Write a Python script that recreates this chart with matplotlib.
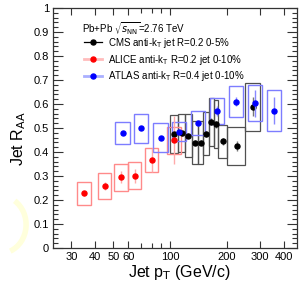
import numpy as np
import matplotlib
matplotlib.use('Agg')
import matplotlib.pyplot as plt
from matplotlib.patches import Rectangle, Arc
from matplotlib.lines import Line2D
from matplotlib.ticker import FixedLocator, NullFormatter, FuncFormatter

plt.rcParams['font.family'] = ['Liberation Sans', 'DejaVu Sans']

# CMS anti-kT R=0.2, 0-5%
cms_lo = [100, 110, 120, 130, 140, 150, 160, 170, 180, 200, 250]
cms_hi = [110, 120, 130, 140, 150, 160, 170, 180, 200, 250, 300]
cms_raa = [0.474, 0.478, 0.468, 0.439, 0.439, 0.476, 0.526, 0.516, 0.444, 0.425, 0.589]
cms_stat = [0.01, 0.01, 0.01, 0.01, 0.01, 0.012, 0.015, 0.015, 0.015, 0.02, 0.04]
cms_sys = [0.08, 0.08, 0.09, 0.09, 0.09, 0.09, 0.1, 0.1, 0.07, 0.08, 0.1]

# ALICE anti-kT R=0.2, 0-10%
alice_pt = [35, 45, 55, 65, 80, 105]
alice_raa = [0.228, 0.258, 0.294, 0.301, 0.368, 0.449]
alice_stat = [0.01, 0.015, 0.025, 0.03, 0.05, 0.1]
alice_sys = [0.048, 0.055, 0.055, 0.056, 0.05, 0.056]

# ATLAS anti-kT R=0.4, 0-10%
atlas_pt = [56, 70, 89, 112, 141, 178, 224, 282, 355]
atlas_raa = [0.478, 0.499, 0.46, 0.485, 0.52, 0.572, 0.61, 0.603, 0.572]
atlas_stat = [0.005, 0.005, 0.005, 0.006, 0.01, 0.02, 0.02, 0.055, 0.057]
atlas_sys = [0.045, 0.06, 0.06, 0.04, 0.05, 0.054, 0.066, 0.075, 0.085]

yticks = [0, 0.1, 0.2, 0.3, 0.4, 0.5, 0.6, 0.7, 0.8, 0.9, 1.0]
xlabeled = [30, 40, 50, 60, 100, 200, 300, 400]
xminor = [70, 80, 90]

RED = '#ff0000'
RED_BOX = '#ff8a8a'
BLUE = '#0000ff'
BLUE_BOX = '#7d7dff'
GRAY_BOX = '#505050'

fig = plt.figure(figsize=(3.07, 2.88), dpi=100)
ax = fig.add_axes([0.173, 0.139, 0.794, 0.833])
ax.set_xscale('log')
ax.set_xlim(24, 470)
ax.set_ylim(0, 1)

# systematic boxes
for lo, hi, y, s in zip(cms_lo, cms_hi, cms_raa, cms_sys):
    ax.add_patch(Rectangle((lo, y - s), hi - lo, 2 * s, fill=False,
                           edgecolor=GRAY_BOX, lw=0.9, zorder=2))
for x, y, s in zip(alice_pt, alice_raa, alice_sys):
    ax.add_patch(Rectangle((x / 1.085, y - s), x * 1.085 - x / 1.085, 2 * s,
                           fill=False, edgecolor=RED_BOX, lw=1.0, zorder=2))
for x, y, s in zip(atlas_pt, atlas_raa, atlas_sys):
    ax.add_patch(Rectangle((x / 1.09, y - s), x * 1.09 - x / 1.09, 2 * s,
                           fill=False, edgecolor=BLUE_BOX, lw=1.0, zorder=2))

cms_pt = [0.5 * (a + b) for a, b in zip(cms_lo, cms_hi)]
ax.errorbar(cms_pt, cms_raa, yerr=cms_stat, fmt='o', color='black', ms=3.6,
            ecolor='#777777', elinewidth=1.0, capsize=0, zorder=4)
ax.errorbar(alice_pt, alice_raa, yerr=alice_stat, fmt='o', color=RED, ms=3.6,
            ecolor='#ffaaaa', elinewidth=1.0, capsize=0, zorder=4)
ax.errorbar(atlas_pt, atlas_raa, yerr=atlas_stat, fmt='o', color=BLUE, ms=3.6,
            ecolor='#8888ff', elinewidth=1.0, capsize=0, zorder=5)

# axes styling, ROOT-like
ax.xaxis.set_major_locator(FixedLocator(xlabeled))
ax.xaxis.set_minor_locator(FixedLocator(xminor))
ax.xaxis.set_major_formatter(FuncFormatter(lambda v, p: '%d' % v))
ax.xaxis.set_minor_formatter(NullFormatter())
ax.set_yticks(yticks)
ax.yaxis.set_minor_locator(FixedLocator(np.arange(0, 1.001, 0.02)))
ax.yaxis.set_major_formatter(FuncFormatter(lambda v, p: '%g' % v))
ax.tick_params(which='both', direction='in', top=True, right=True,
               labelsize=8, width=0.8, color='#333333', pad=3)
ax.tick_params(which='major', length=7)
ax.tick_params(which='minor', length=3.5)
ax.tick_params(axis='x', which='major', length=5)
for sp in ax.spines.values():
    sp.set_linewidth(0.9)
    sp.set_color('#333333')

fig.text(0.06, 0.52, 'Jet R$_{\\rm AA}$', rotation=90, ha='center',
         va='center', fontsize=11.5)
fig.text(0.585, 0.055, 'Jet p$_{\\rm T}$ (GeV/c)', ha='center', va='center',
         fontsize=11.5)

# legend
ax.text(0.118, 0.912, 'Pb+Pb $\\sqrt{s_{\\rm NN}}$=2.76 TeV',
        transform=ax.transAxes, fontsize=7, va='center')
handles = [
    Line2D([], [], color='black', lw=0.9, marker='o', ms=3.6),
    Line2D([], [], color='#ffbcbc', lw=2, marker='o', ms=3.6, mfc=RED, mec=RED),
    Line2D([], [], color='#aab0ff', lw=2, marker='o', ms=3.6, mfc=BLUE, mec=BLUE),
]
labels = ['CMS anti-k$_{\\rm T}$ jet R=0.2 0-5%',
          'ALICE anti-k$_{\\rm T}$ R=0.2 jet 0-10%',
          'ATLAS anti-k$_{\\rm T}$ R=0.4 jet 0-10%']
ax.legend(handles, labels, loc='upper left', bbox_to_anchor=(0.125, 0.885),
          frameon=False, fontsize=7, handlelength=1.9, handletextpad=0.6,
          labelspacing=0.3, borderpad=0, borderaxespad=0)

# faint yellow smudge at the left edge
fig.patches.append(Arc((0.0, 0.22), 0.17, 0.2, theta1=-70, theta2=60,
                       transform=fig.transFigure, color='#ffffdc', lw=4))

fig.savefig('out.png', dpi=100)
